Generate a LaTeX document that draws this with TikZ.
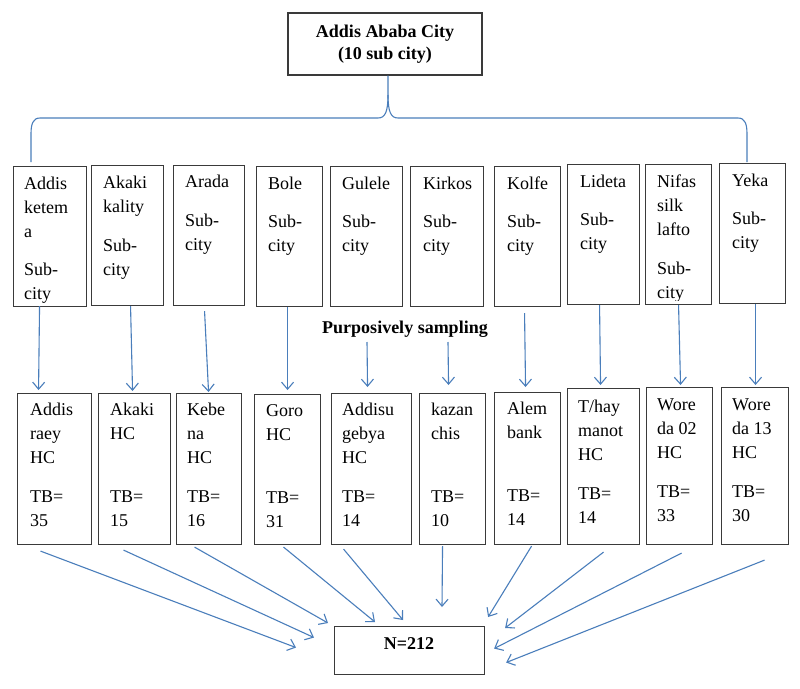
\documentclass[tikz,border=0pt]{standalone}
\usepackage{fontspec}
\setmainfont{Liberation Serif}
\usetikzlibrary{arrows.meta,calc}
\definecolor{arrc}{HTML}{4A7EBB}
\definecolor{boxc}{HTML}{3A3A3A}
\newcommand\boxtxt[1]{\parbox[t]{80pt}{\raggedright\fontsize{18}{24}\selectfont #1}}
\begin{document}
\begin{tikzpicture}[x=1pt,y=-1pt,
  box/.style={draw=boxc, line width=1.1pt, inner sep=0pt, anchor=north west},
  lbl/.style={inner sep=0pt, anchor=base west},
  btxt/.style={inner sep=0pt, anchor=base, font=\bfseries\fontsize{18}{22}\selectfont},
  arr/.style={draw=arrc, line width=1.1pt, -{Straight Barb[length=7pt,width=12pt]}},
  brc/.style={draw=arrc, line width=1.1pt}]
\useasboundingbox[fill=white] (0,0) rectangle (800,688);

% top box
\node[draw=boxc, line width=1.1pt, minimum width=194pt, minimum height=62pt, inner sep=0pt,
  align=center, font=\bfseries\fontsize{18}{22}\selectfont] (top) at (385,44) {Addis Ababa City\\(10 sub city)};

% sub-city boxes
\node[box, minimum width=73pt, minimum height=140pt] (s1) at (13,166) {};
\node[box, minimum width=72pt, minimum height=140pt] (s2) at (91,165) {};
\node[box, minimum width=71pt, minimum height=140pt] (s3) at (173,165) {};
\node[box, minimum width=66pt, minimum height=140pt] (s4) at (256,166) {};
\node[box, minimum width=72pt, minimum height=140pt] (s5) at (330,166) {};
\node[box, minimum width=73pt, minimum height=140pt] (s6) at (410,166) {};
\node[box, minimum width=66pt, minimum height=140pt] (s7) at (494,166) {};
\node[box, minimum width=72pt, minimum height=140pt] (s8) at (567,164) {};
\node[box, minimum width=66pt, minimum height=140pt] (s9) at (645,164) {};
\node[box, minimum width=66pt, minimum height=140pt] (s10) at (719,163) {};

\begin{scope}
\clip ($(s1.north west)+(1,1)$) rectangle ($(s1.south east)+(-1,-5)$);
\node[lbl] (t1) at ($(s1.north west)+(11,23)$) {\boxtxt{Addis\\ketem\\a\\[14pt]Sub-\\city}};
\end{scope}
\node[lbl] (t2) at ($(s2.north west)+(12,23)$) {\boxtxt{Akaki\\kality\\[15pt]Sub-\\city}};
\node[lbl] (t3) at ($(s3.north west)+(12,22)$) {\boxtxt{Arada\\[15pt]Sub-\\city}};
\node[lbl] (t4) at ($(s4.north west)+(12,23)$) {\boxtxt{Bole\\[14pt]Sub-\\city}};
\node[lbl] (t5) at ($(s5.north west)+(12,23)$) {\boxtxt{Gulele\\[14pt]Sub-\\city}};
\node[lbl] (t6) at ($(s6.north west)+(13,23)$) {\boxtxt{Kirkos\\[14pt]Sub-\\city}};
\node[lbl] (t7) at ($(s7.north west)+(13,23)$) {\boxtxt{Kolfe\\[14pt]Sub-\\city}};
\node[lbl] (t8) at ($(s8.north west)+(13,23)$) {\boxtxt{Lideta\\[14pt]Sub-\\city}};
\begin{scope}
\clip ($(s9.north west)+(1,1)$) rectangle ($(s9.south east)+(-1,-5)$);
\node[lbl] (t9) at ($(s9.north west)+(12,23)$) {\boxtxt{Nifas\\silk\\lafto\\[15pt]Sub-\\city}};
\end{scope}
\node[lbl] (t10) at ($(s10.north west)+(13,23)$) {\boxtxt{Yeka\\[14pt]Sub-\\city}};

% brace
\coordinate (bm) at (388,95);
\draw[brc] ($(top.south)+(3,0)$) -- (bm)
  .. controls (388,112) and (385,118) .. (378,118) -- (40,118)
  .. controls (33,118) and (31,124) .. (31,134) -- ($(s1.north west)+(18,-4)$);
\draw[brc] (bm)
  .. controls (388,112) and (391,118) .. (398,118) -- (738,118)
  .. controls (745,118) and (747,124) .. (747,134) -- ($(s10.north west)+(28,-1)$);

% purposive sampling
\node[btxt] (ps) at (405,333) {Purposively sampling};
\coordinate (p5) at (367,342);
\coordinate (p6) at (448,342);

% health center boxes
\node[box, minimum width=74pt, minimum height=151pt] (h1) at (17,393) {};
\node[box, minimum width=72pt, minimum height=151pt] (h2) at (98,393) {};
\node[box, minimum width=65pt, minimum height=151pt] (h3) at (176,393) {};
\node[box, minimum width=66pt, minimum height=150pt] (h4) at (254,394) {};
\node[box, minimum width=80pt, minimum height=151pt] (h5) at (331,393) {};
\node[box, minimum width=66pt, minimum height=151pt] (h6) at (419,393) {};
\node[box, minimum width=66pt, minimum height=152pt] (h7) at (494,392) {};
\node[box, minimum width=72pt, minimum height=156pt] (h8) at (567,388) {};
\node[box, minimum width=66pt, minimum height=157pt] (h9) at (646,387) {};
\node[box, minimum width=67pt, minimum height=157pt] (h10) at (721,387) {};

\node[lbl] (u1) at ($(h1.north west)+(13,22)$) {\boxtxt{Addis\\raey\\HC\\[15pt]TB=\\35}};
\node[lbl] (u2) at ($(h2.north west)+(12,22)$) {\boxtxt{Akaki\\HC\\[39pt]TB=\\15}};
\node[lbl] (u3) at ($(h3.north west)+(11,22)$) {\boxtxt{Kebe\\na\\HC\\[15pt]TB=\\16}};
\node[lbl] (u4) at ($(h4.north west)+(12,22)$) {\boxtxt{Goro\\HC\\[39pt]TB=\\31}};
\node[lbl] (u5) at ($(h5.north west)+(11,22)$) {\boxtxt{Addisu\\gebya\\HC\\[15pt]TB=\\14}};
\node[lbl] (u6) at ($(h6.north west)+(12,22)$) {\boxtxt{kazan\\chis\\[39pt]TB=\\10}};
\node[lbl] (u7) at ($(h7.north west)+(13,22)$) {\boxtxt{Alem\\bank\\[39pt]TB=\\14}};
\node[lbl] (u8) at ($(h8.north west)+(11,24)$) {\boxtxt{T/hay\\manot\\HC\\[15pt]TB=\\14}};
\node[lbl] (u9) at ($(h9.north west)+(11,23)$) {\boxtxt{Wore\\da 02\\HC\\[15pt]TB=\\33}};
\node[lbl] (u10) at ($(h10.north west)+(11,23)$) {\boxtxt{Wore\\da 13\\HC\\[15pt]TB=\\30}};

% arrows row1 -> row2
\draw[arr] ($(s1.south)+(-10.5,-1)$) -- ($(h1.north)+(-16,-3)$);
\draw[arr] ($(s2.south)+(3,0)$) -- ($(h2.north)+(-2,-2)$);
\draw[arr] ($(s3.south)+(-4.5,5)$) -- ($(h3.north)+(-0.5,-1)$);
\draw[arr] ($(s4.south)+(-2,0)$) -- ($(h4.north)+(0,-4)$);
\draw[arr] (p5) -- ($(h5.north)+(-4,-6)$);
\draw[arr] (p6) -- ($(h6.north)+(-4,-8)$);
\draw[arr] ($(s7.south)+(-3,6)$) -- ($(h7.north)+(-2,-5)$);
\draw[arr] ($(s8.south)+(-4,0)$) -- ($(h8.north)+(-3,-3)$);
\draw[arr] ($(s9.south)+(0,0)$) -- ($(h9.north)+(1,-2)$);
\draw[arr] ($(s10.south)+(3,0)$) -- ($(h10.north)+(0.5,-2)$);

% total box
\node[box, minimum width=150pt, minimum height=48pt] (n) at (334,626) {};
\node[btxt] (nt) at (409,649) {N=212};

% fan-in arrows
\draw[arr] ($(h1.south)+(-14,6)$) -- ($(n.west)+(-38,-3)$);
\draw[arr] ($(h2.south)+(-11,5)$) -- ($(n.west)+(-20,-13)$);
\draw[arr] ($(h3.south)+(-14.5,2)$) -- ($(n.north west)+(-6,-3)$);
\draw[arr] ($(h4.south)+(-4,2)$) -- ($(n.north west)+(41,-4)$);
\draw[arr] ($(h5.south)+(-28,4)$) -- ($(n.north west)+(69,-6)$);
\draw[arr] ($(h6.south)+(-10,1)$) -- ($(n.north west)+(108,-19)$);
\draw[arr] ($(h7.south)+(4,1)$) -- ($(n.north east)+(3,-9)$);
\draw[arr] ($(h8.south)+(0,7)$) -- ($(n.north east)+(20,2)$);
\draw[arr] ($(h9.south)+(2,8)$) -- ($(n.east)+(9,-2)$);
\draw[arr] ($(h10.south)+(9.5,15)$) -- ($(n.east)+(21,12)$);
\end{tikzpicture}
\end{document}
